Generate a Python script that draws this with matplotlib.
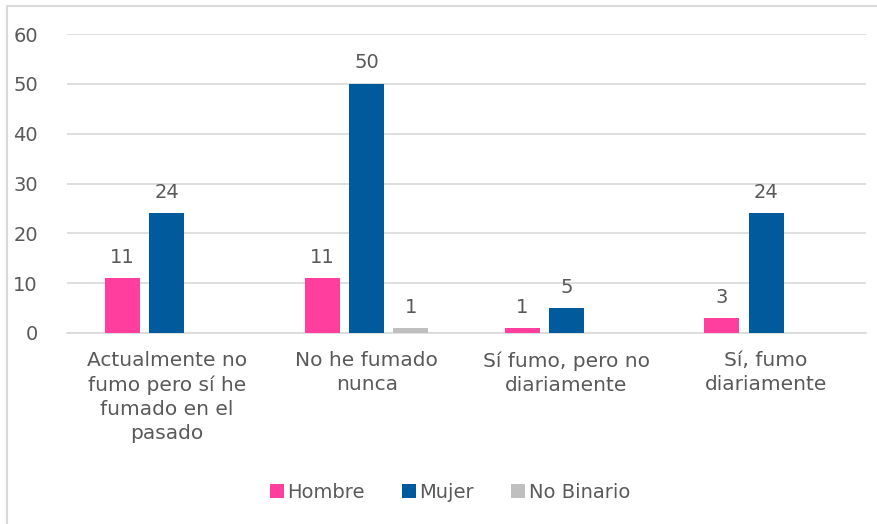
import matplotlib.pyplot as plt
import numpy as np
from matplotlib.lines import Line2D

categories = ['Actualmente no\nfumo pero sí he\nfumado en el\npasado', 'No he fumado\nnunca',
              'Sí fumo, pero no\ndiariamente', 'Sí, fumo\ndiariamente']
hombre = [11, 11, 1, 3]
mujer = [24, 50, 5, 24]
no_binario = [0, 1, 0, 0]
series = ['Hombre', 'Mujer', 'No Binario']
colors = ['#FF3E9E', '#005A9C', '#BFBFBF']

plt.rcParams['font.family'] = ['DejaVu Sans']
txt = '#595959'

fig = plt.figure(figsize=(8.77, 5.24), dpi=100)
ax = fig.add_axes([67/877, 1-333/524, (866-67)/877, (333-34)/524])

x = np.arange(len(categories))
w = 0.175
step = 0.222
for k, (vals, c, name) in enumerate(zip([hombre, mujer, no_binario], colors, series)):
    bars = ax.bar(x + (k-1)*step, vals, w, color=c, label=name, zorder=3)
    for b, v in zip(bars, vals):
        if v:
            ax.text(b.get_x() + b.get_width()/2, v + 2.3, str(v), ha='center', va='bottom',
                    fontsize=14, color=txt)

ax.set_xlim(-0.5, 3.5)
ax.set_ylim(0, 60)
ax.set_yticks(range(0, 61, 10))
ax.yaxis.grid(True, color='#D9D9D9', lw=1.2, zorder=0)
for s in ['top', 'right', 'left']:
    ax.spines[s].set_visible(False)
ax.spines['bottom'].set_color('#D9D9D9')
ax.spines['bottom'].set_linewidth(1.2)
ax.tick_params(axis='both', length=0, labelsize=14, labelcolor=txt)
ax.tick_params(axis='y', pad=21)
ax.set_xticks(x)
ax.set_xticklabels(categories, va='top', linespacing=1.35, fontsize=14.5)
ax.tick_params(axis='x', pad=13)

fig.legend(loc='center', bbox_to_anchor=(450/877, 1-492/524), ncol=3, frameon=False,
           fontsize=14, labelcolor=txt, handlelength=0.7, handleheight=0.7,
           handletextpad=0.2, columnspacing=1.9)

# outer frame: only the top and left edges fall inside the image
fig.lines.append(Line2D([7/877, 7/877, 1], [0, 1-6/524, 1-6/524], transform=fig.transFigure,
                        color='#D9D9D9', lw=1.5))

fig.savefig('out.png', dpi=100)
